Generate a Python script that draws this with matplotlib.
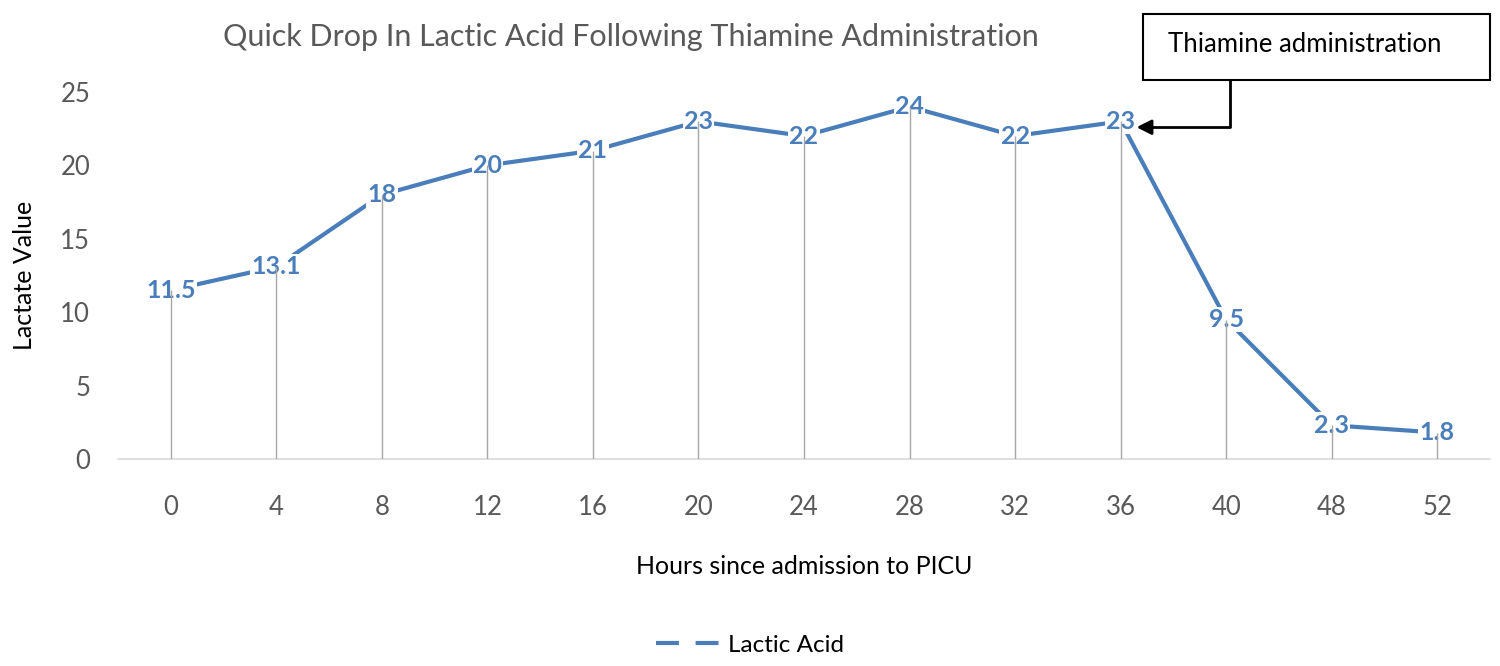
import matplotlib
matplotlib.use("Agg")
import matplotlib.pyplot as plt
from matplotlib.lines import Line2D

hours = ["0", "4", "8", "12", "16", "20", "24", "28", "32", "36", "40", "48", "52"]
lactate = [11.5, 13.1, 18, 20, 21, 23, 22, 24, 22, 23, 9.5, 2.3, 1.8]
labels = ["11.5", "13.1", "18", "20", "21", "23", "22", "24", "22", "23", "9.5", "2.3", "1.8"]

plt.rcParams['font.family'] = ['Lato', 'DejaVu Sans']
blue = "#4a7ebb"
grey_text = "#595959"

fig = plt.figure(figsize=(15, 6.66), dpi=100)
ax = fig.add_axes([118/1500, 1-459/666, (1490-118)/1500, (459-92)/666])

x = list(range(len(hours)))
ax.plot(x, lactate, color=blue, lw=3, zorder=2, solid_capstyle='butt')
for xi, yi, lab in zip(x, lactate, labels):
    ax.text(xi, yi, lab, ha='center', va='center', color=blue, fontsize=18,
            fontweight='bold', zorder=3,
            bbox=dict(boxstyle='square,pad=0.05', fc='white', ec='none'))
ax.vlines(x, 0, lactate, color='#a6a6a6', lw=1, zorder=4)

ax.set_xlim(-0.5, len(hours) - 0.5)
ax.set_ylim(0, 25)
ax.set_xticks(x)
ax.set_xticklabels(hours)
ax.set_yticks([0, 5, 10, 15, 20, 25])
ax.tick_params(axis='both', length=0, labelsize=18.5, labelcolor=grey_text)
ax.tick_params(axis='x', pad=26)
ax.tick_params(axis='y', pad=20)
for s in ['top', 'right', 'left']:
    ax.spines[s].set_visible(False)
ax.spines['bottom'].set_color('#d9d9d9')
ax.spines['bottom'].set_linewidth(1.2)

fig.text(631/1500, 1-37/666, "Quick Drop In Lactic Acid Following Thiamine Administration",
         ha='center', va='center', fontsize=22, color=grey_text)
fig.text(804/1500, 1-567/666, "Hours since admission to PICU", ha='center', va='center',
         fontsize=18, color='black')
fig.text(25/1500, 1-275/666, "Lactate Value", ha='center', va='center', rotation=90,
         fontsize=18, color='black')

# annotation box
fig.patches.append(plt.Rectangle((1143/1500, 1-80/666), (1490-1143)/1500, (80-14)/666,
                                 transform=fig.transFigure, fc='white', ec='black', lw=1.5,
                                 zorder=5))
fig.text(1168/1500, 1-45/666, "Thiamine administration", ha='left', va='center',
         fontsize=18.5, color='black', zorder=6)
ax.annotate("", xy=(9.15, 22.6), xycoords='data', xytext=(1230, 666-80),
            textcoords='figure pixels',
            arrowprops=dict(arrowstyle='-|>,head_length=0.9,head_width=0.45', color='black',
                            lw=2, connectionstyle='angle,angleA=90,angleB=0,rad=0',
                            shrinkA=0, shrinkB=0),
            annotation_clip=False)

handle = Line2D([], [], color=blue, lw=3, linestyle=(0, (5.5, 4)))
fig.legend([handle], ["Lactic Acid"], loc='center', bbox_to_anchor=(750/1500, 1-645/666),
           frameon=False, fontsize=17.5, handlelength=2.6, handletextpad=0.35)

fig.savefig("out.png", dpi=100, facecolor='white')
